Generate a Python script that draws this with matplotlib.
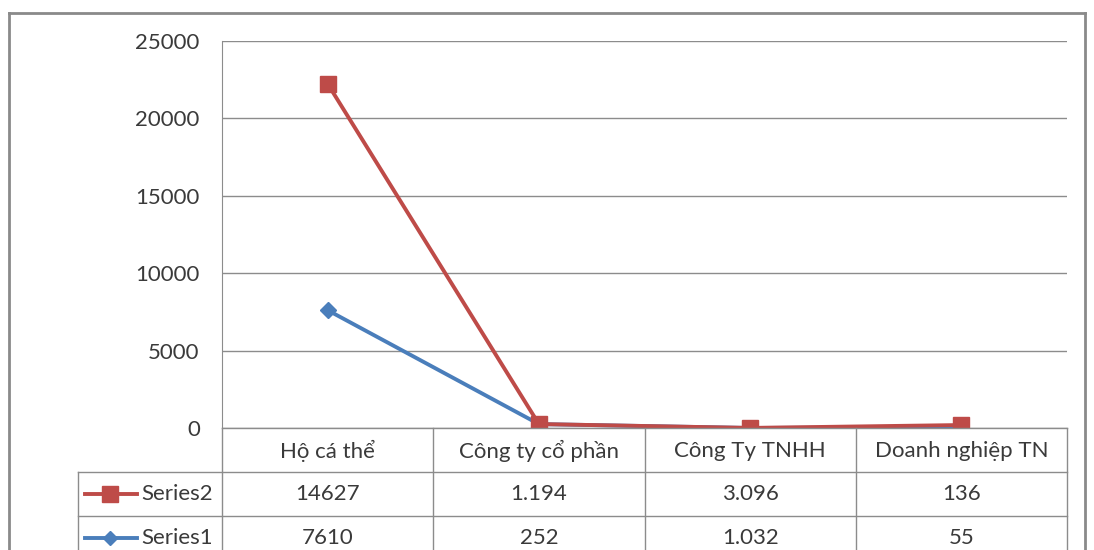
import matplotlib.pyplot as plt
import numpy as np
from matplotlib.lines import Line2D

# Du lieu
categories = ['Hộ cá thể', 'Công ty cổ phần', 'Công Ty TNHH', 'Doanh nghiệp TN']
series1 = [7610, 252, 1.032, 55]
series2 = [14627, 1.194, 3.096, 136]
series_names = ['Series2', 'Series1']
yticks = [0, 5000, 10000, 15000, 20000, 25000]

red = '#BE4B48'
blue = '#4A7EBB'
grid_c = '#8C8C8C'
txt_c = '#3a3a3a'
fs = 16
plt.rcParams['font.family'] = ['Lato', 'DejaVu Sans']

W, H = 1094, 550
fig = plt.figure(figsize=(W / 100, H / 100), dpi=100)


def px(x, y):
    # pixel -> figure coords
    return x / W, 1 - y / H


def hline(x0, x1, y, c=grid_c, lw=1):
    fig.add_artist(Line2D([x0 / W, x1 / W], [1 - y / H, 1 - y / H], color=c, lw=lw))


def vline(x, y0, y1, c=grid_c, lw=1):
    fig.add_artist(Line2D([x / W, x / W], [1 - y0 / H, 1 - y1 / H], color=c, lw=lw))


# khung ngoai
vline(9, 13, 560, c='#8a8a8a', lw=2)
hline(9, 1085, 13, c='#8a8a8a', lw=2)
vline(1085, 13, 560, c='#8a8a8a', lw=2)

left, right, top, bottom = 222, 1067, 41, 428
ax = fig.add_axes([left / W, 1 - bottom / H, (right - left) / W, (bottom - top) / H])

x = np.arange(len(categories)) + 0.5
stacked = np.array(series1) + np.array(series2)
ax.plot(x, series1, color=blue, lw=2.8, marker='D', ms=8, zorder=3)
ax.plot(x, stacked, color=red, lw=2.8, marker='s', ms=12, zorder=4)

ax.set_xlim(0, len(categories))
ax.set_ylim(0, 25000)
ax.set_yticks(yticks)
ax.set_yticklabels([str(v) for v in yticks], fontsize=fs, color=txt_c)
ax.tick_params(axis='y', length=0, pad=16)
ax.set_xticks([])
ax.yaxis.grid(True, color=grid_c, lw=1)
ax.set_axisbelow(True)
for s in ['top', 'right', 'bottom']:
    ax.spines[s].set_visible(False)
ax.spines['left'].set_color(grid_c)

# bang du lieu
col_w = (right - left) / len(categories)
row_y = [428, 472, 516]
hline(left, right, row_y[0])
hline(78, right, row_y[1])
hline(78, right, row_y[2])
vline(78, row_y[1], 560)
vline(left, bottom, 560)
for i in range(1, len(categories) + 1):
    vline(left + i * col_w, bottom, 560)


def fmt(v):
    return str(int(v)) if float(v).is_integer() else f'{v:.3f}'


for i, c in enumerate(categories):
    fig.text(*px(left + (i + 0.5) * col_w, 451), c, ha='center', va='center',
             fontsize=fs, color=txt_c)
for r, (vals, col, mk, ms) in enumerate([(series2, red, 's', 12), (series1, blue, 'D', 7)]):
    yc = 494 + r * 44
    fig.add_artist(Line2D([85 / W, 137 / W], [1 - yc / H] * 2, color=col, lw=2.8))
    fig.add_artist(Line2D([110 / W], [1 - yc / H], color=col, marker=mk, ms=ms))
    fig.text(*px(141, yc), series_names[r], ha='left', va='center', fontsize=fs, color=txt_c)
    for i, v in enumerate(vals):
        fig.text(*px(left + (i + 0.5) * col_w, yc), fmt(v), ha='center', va='center',
                 fontsize=fs, color=txt_c)

plt.savefig('out.png', dpi=100)
